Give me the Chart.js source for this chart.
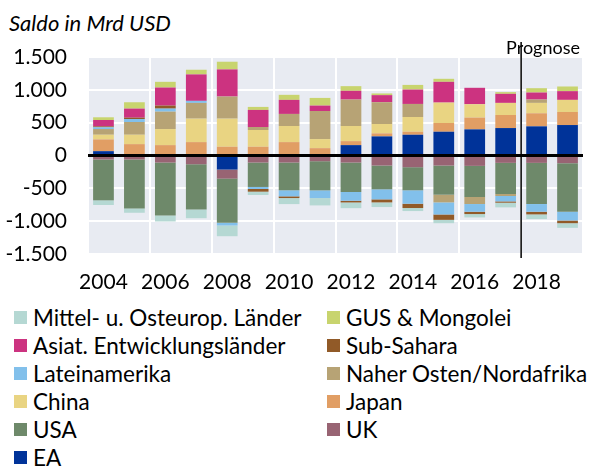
<!DOCTYPE html>
<html>
<head>
<meta charset="utf-8">
<script src="https://cdn.jsdelivr.net/npm/chart.js@4.4.1/dist/chart.umd.min.js"></script>
<style>
  html, body { margin: 0; padding: 0; background: #fff; }
  body { width: 593px; height: 467px; position: relative; overflow: hidden; font-family: Lato, sans-serif; color: #000; }
  #subtitle { position: absolute; left: 9px; top: 9px; font-style: italic; font-size: 22px; }
  #chart-box { position: absolute; left: 0; top: 0; width: 593px; height: 300px; }
  #legend { position: absolute; left: 14px; top: 303px; display: grid; grid-template-columns: 313px auto; grid-auto-rows: 28px; }
  .item { display: flex; align-items: center; font-size: 22.5px; white-space: nowrap; }
  .swatch { width: 13px; height: 13px; margin-right: 6px; flex: none; }
</style>
</head>
<body>
<div id="subtitle">Saldo in Mrd USD</div>
<div id="chart-box"><canvas id="chart" width="593" height="300"></canvas></div>
<div id="legend"></div>
<script>
// Leistungsbilanzsalden, Mrd USD (Werte aus der Grafik geschätzt)
const years = ['2004', '2005', '2006', '2007', '2008', '2009', '2010', '2011',
  '2012', '2013', '2014', '2015', '2016', '2017', '2018', '2019'];
const yTicks = [-1500, -1000, -500, 0, 500, 1000, 1500];
const forecastFrom = '2018';

const ea        = [66, 0, 0, 0, -214, 0, 0, 0, 158, 291, 316, 362, 398, 418, 444, 464];
const uk        = [-61, -61, -107, -133, -138, -107, -107, -87, -107, -153, -178, -153, -158, -112, -112, -117];
const usa       = [-622, -745, -806, -689, -673, -372, -423, -444, -449, -362, -352, -444, -474, -474, -627, -740];
const japan     = [179, 173, 158, 204, 133, 133, 204, 112, 61, 46, 46, 133, 179, 199, 199, 199];
const china     = [71, 143, 245, 357, 428, 255, 245, 138, 230, 143, 224, 311, 204, 184, 158, 184];
const nahost    = [87, 194, 265, 240, 337, 46, 184, 428, 403, 332, 199, -117, -107, -31, 51, 0];
const latein    = [26, 46, 46, 31, -41, -31, -92, -117, -133, -153, -204, -184, -117, -82, -117, -133];
const subsahara = [15, 20, 46, 0, 0, -41, -26, 0, -26, -46, -66, -82, -36, -20, -41, -41];
const asien     = [97, 138, 275, 403, 413, 260, 214, 82, 133, 107, 219, 316, 250, 138, 107, 133];
const gus       = [41, 97, 87, 71, 117, 46, 77, 117, 71, 26, 71, 46, 0, 26, 66, 71];
const moe       = [-71, -66, -92, -133, -163, -51, -92, -112, -87, -71, -46, -51, -51, -71, -71, -71];

// stacking order (bottom up); legend shows it reversed
const series = [
  { label: 'EA', data: ea, color: '#003399' },
  { label: 'UK', data: uk, color: '#986473' },
  { label: 'USA', data: usa, color: '#6e896a' },
  { label: 'Japan', data: japan, color: '#e19e64' },
  { label: 'China', data: china, color: '#e9d482' },
  { label: 'Naher Osten/Nordafrika', data: nahost, color: '#b7a375' },
  { label: 'Lateinamerika', data: latein, color: '#82c0eb' },
  { label: 'Sub-Sahara', data: subsahara, color: '#915a28' },
  { label: 'Asiat. Entwicklungsländer', data: asien, color: '#cc3380' },
  { label: 'GUS & Mongolei', data: gus, color: '#c8d46e' },
  { label: 'Mittel- u. Osteurop. Länder', data: moe, color: '#b5d8d3' },
];

const plotBackground = {
  id: 'plotBackground',
  beforeDraw(chart) {
    const { ctx, chartArea: a } = chart;
    ctx.save();
    ctx.fillStyle = '#e8ebf2';
    ctx.fillRect(a.left, a.top, a.right - a.left, a.bottom - a.top);
    ctx.restore();
  }
};

const overlay = {
  id: 'overlay',
  afterDatasetsDraw(chart) {
    const { ctx, chartArea: a, scales } = chart;
    const y0 = scales.y.getPixelForValue(0);
    const xf = scales.x.getPixelForValue(years.indexOf(forecastFrom) - 0.5);
    ctx.save();
    ctx.strokeStyle = '#000';
    ctx.lineWidth = 3;
    ctx.beginPath();
    ctx.moveTo(a.left, y0);
    ctx.lineTo(a.right, y0);
    ctx.stroke();
    ctx.lineWidth = 1.5;
    ctx.beginPath();
    ctx.moveTo(xf, 42);
    ctx.lineTo(xf, a.bottom + 4);
    ctx.stroke();
    ctx.fillStyle = '#000';
    ctx.font = '18px Lato';
    ctx.textAlign = 'right';
    ctx.textBaseline = 'alphabetic';
    ctx.fillText('Prognose', a.right - 3, a.top - 3);
    ctx.restore();
  }
};

const chart = new Chart(document.getElementById('chart').getContext('2d'), {
  type: 'bar',
  data: {
    labels: years,
    datasets: series.map((s) => ({
      label: s.label,
      data: s.data,
      backgroundColor: s.color,
      borderWidth: 0,
      barPercentage: 0.67,
      categoryPercentage: 1,
    })),
  },
  options: {
    responsive: false,
    animation: false,
    layout: { padding: { top: 57, right: 10, left: 0, bottom: 0 } },
    plugins: {
      legend: { display: false },
      tooltip: { enabled: false },
    },
    scales: {
      x: {
        stacked: true,
        afterFit: (scale) => { scale.height = 46; },
        grid: {
          offset: true,
          drawTicks: false,
          lineWidth: 2,
          color: (ctx) => (ctx.index === undefined || ctx.index % 2 === 0 ? '#ffffff' : 'rgba(0,0,0,0)'),
        },
        border: { display: false },
        ticks: {
          autoSkip: false,
          maxRotation: 0,
          padding: 16,
          color: '#000',
          font: { family: 'Lato', size: 21 },
          callback: (v, i) => (i % 2 === 0 ? years[i] : ''),
        },
      },
      y: {
        stacked: true,
        min: yTicks[0],
        max: yTicks[yTicks.length - 1],
        afterFit: (scale) => { scale.width = 88; },
        afterBuildTicks: (scale) => { scale.ticks = yTicks.map((v) => ({ value: v })); },
        grid: { drawTicks: false, lineWidth: 2, color: '#ffffff' },
        border: { display: false },
        ticks: {
          padding: 21,
          color: '#000',
          font: { family: 'Lato', size: 21 },
          callback: (v) => v.toLocaleString('de-DE'),
        },
      },
    },
  },
  plugins: [plotBackground, overlay],
});

// two-column legend, reversed order as in the original
const legend = document.getElementById('legend');
chart.data.datasets.slice().reverse().forEach((ds) => {
  const item = document.createElement('div');
  item.className = 'item';
  const sw = document.createElement('span');
  sw.className = 'swatch';
  sw.style.background = ds.backgroundColor;
  item.appendChild(sw);
  item.appendChild(document.createTextNode(ds.label));
  legend.appendChild(item);
});
</script>
</body>
</html>
